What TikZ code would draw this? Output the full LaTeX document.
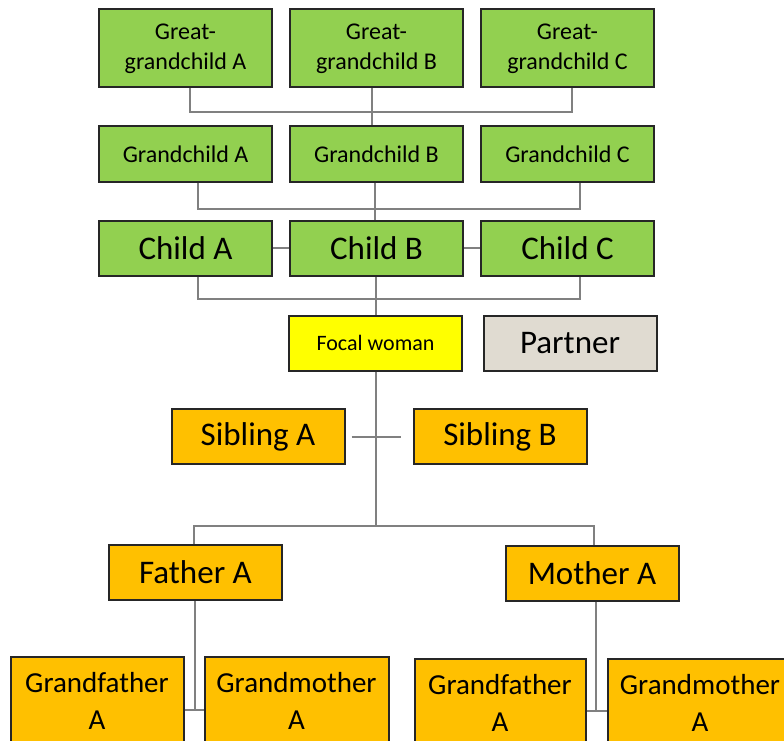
\documentclass[tikz,border=0pt]{standalone}
\usepackage{fontspec}
\setmainfont{Carlito}
\usetikzlibrary{positioning}
\definecolor{mygreen}{HTML}{92D050}
\definecolor{myyellow}{HTML}{FFFF00}
\definecolor{myorange}{HTML}{FFC000}
\definecolor{mytan}{HTML}{E0DBD1}
\colorlet{mygray}{black!50}
\tikzstyle{mybox}=[draw=black!85,fill=#1,line width=2,inner sep=2pt,align=center,
                   text=black,minimum width=173,minimum height=55]
\tikzstyle{mytinybox}=[mybox=mygreen,minimum height=78,font=\fontsize{24}{30}\selectfont]
\tikzstyle{mysmallbox}=[mybox=#1,font=\fontsize{24}{28}\selectfont]
\tikzstyle{mybigbox}=[mybox=#1,font=\fontsize{33}{36}\selectfont]
\tikzstyle{mytallbox}=[mybox=myorange,minimum height=89,font=\fontsize{29}{37}\selectfont]
\tikzstyle{mylink}=[draw=mygray,line width=2]

\begin{document}
\begin{tikzpicture}[x=1pt,y=-1pt]
  \def\g{16} % gap between boxes of a row
  \clip (0,0) rectangle (784,741);

  % great-grandchildren
  \node[mytinybox] (ggA) at (185.5,48.5) {Great-\\grandchild A};
  \node[mytinybox, right=\g pt of ggA] (ggB) {Great-\\grandchild B};
  \node[mytinybox, right=\g pt of ggB] (ggC) {Great-\\grandchild C};

  % grandchildren
  \path (ggA)++(0,105.5) node[mysmallbox=mygreen] (gcA) {Grandchild A};
  \node[mysmallbox=mygreen, right=\g pt of gcA] (gcB) {Grandchild B};
  \node[mysmallbox=mygreen, right=\g pt of gcB] (gcC) {Grandchild C};

  % children
  \path (gcA)++(0,94) node[mybigbox=mygreen] (chA) {Child A};
  \node[mybigbox=mygreen, right=\g pt of chA] (chB) {Child B};
  \node[mybigbox=mygreen, right=\g pt of chB] (chC) {Child C};

  % focal woman
  \node[mysmallbox=myyellow, font=\fontsize{22}{26}\selectfont] (focal) at (375.5,343) {Focal woman};
  \node[mybigbox=mytan] (partner) at (570,343) {Partner};

  % siblings
  \node[mybigbox=myorange] (sibA) at (258,436.5) {Sibling A};
  \node[mybigbox=myorange] (sibB) at (500,436.5) {Sibling B};

  % parents
  \node[mybigbox=myorange] (father) at (195.5,572.5) {Father A};
  \node[mybigbox=myorange] (mother) at (592,573) {Mother A};

  % grandparents
  \node[mytallbox] (gfA) at (97,701) {Grandfather\\A};
  \node[mytallbox, minimum width=184] (gmA) at (296.5,701) {Grandmother\\A};
  \node[mytallbox, minimum width=171] (gfB) at (500,703) {Grandfather\\A};
  \node[mytallbox, minimum width=184] (gmB) at (700,703) {Grandmother\\A};

  % LINKS
  \draw[mylink] ([xshift=4]ggA.south) -- ++(0,24) -| ([xshift=4]ggC.south);
  \draw[mylink] ([xshift=-5]ggB.south) -- ([xshift=-5]gcB.north);
  \draw[mylink] ([xshift=12]gcA.south) -- ++(0,26) -| ([xshift=12]gcC.south);
  \draw[mylink] ([xshift=-2]gcB.south) -- ([xshift=-2]chB.north);
  \draw[mylink] (chA.east) -- (chB.west);
  \draw[mylink] (chB.east) -- (chC.west);
  \draw[mylink] ([xshift=12]chA.south) -- ++(0,22) -| ([xshift=12]chC.south);
  \draw[mylink] (focal.north) -- (focal.north |- chB.south);
  \draw[mylink] (focal.south) -- ++(0,154) coordinate (fork);
  \draw[mylink, shorten <=6pt, shorten >=12pt] (sibA.east) -- (sibB.west);
  \draw[mylink] ([xshift=-2]father.north) |- (fork) -| ([xshift=2]mother.north);
  \draw[mylink] ([xshift=-1]father.south) -- ++(0,109) coordinate (joinA);
  \draw[mylink] (gfA.east |- joinA) -- (gmA.west |- joinA);
  \draw[mylink] ([xshift=4]mother.south) -- ++(0,109) coordinate (joinB);
  \draw[mylink] (gfB.east |- joinB) -- (gmB.west |- joinB);
\end{tikzpicture}
\end{document}
